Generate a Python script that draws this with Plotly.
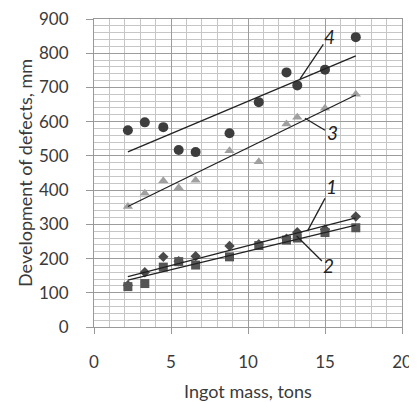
import plotly.graph_objects as go

# Data
mass = [2.2, 3.3, 4.5, 5.5, 6.6, 8.8, 10.7, 12.5, 13.2, 15.0, 17.0]
defects_1 = [122, 160, 205, 192, 207, 237, 242, 258, 277, 285, 323]
defects_2 = [118, 127, 175, 191, 181, 205, 238, 254, 260, 276, 290]
defects_3 = [352, 391, 427, 407, 429, 515, 483, 593, 613, 639, 680]
defects_4 = [575, 598, 584, 517, 511, 566, 657, 744, 706, 752, 847]

trend_x = [2.2, 17.0]
trend_1 = [147, 319]
trend_2 = [137, 298]
trend_3 = [352, 678]
trend_4 = [512, 792]

x_ticks = [0, 5, 10, 15, 20]
y_ticks = [0, 100, 200, 300, 400, 500, 600, 700, 800, 900]

FONT = "Lato"
TXT = "#3a3a3a"

fig = go.Figure()

series = [
    (defects_4, "circle", 10, "#3d3d3d"),
    (defects_3, "triangle-up", 9, "#a0a0a0"),
    (defects_1, "diamond", 8, "#4a4a4a"),
    (defects_2, "square", 9, "#555555"),
]
for ys, sym, size, col in series:
    fig.add_trace(go.Scatter(x=mass, y=ys, mode="markers",
                             marker=dict(symbol=sym, size=size, color=col, line=dict(width=0)),
                             showlegend=False, hoverinfo="skip"))

for ty in (trend_1, trend_2, trend_3, trend_4):
    fig.add_trace(go.Scatter(x=trend_x, y=ty, mode="lines",
                             line=dict(color="#222222", width=1.3),
                             showlegend=False, hoverinfo="skip"))

# leader lines and labels
labels = [
    ("4", 15.3, 850, (13.38, 725), (14.89, 826)),
    ("3", 15.5, 568, (13.7, 610), (15.0, 575)),
    ("1", 15.45, 410, (13.87, 281), (15.0, 376)),
    ("2", 15.25, 181, (13.16, 266), (14.8, 193)),
]
for txt, tx, ty, p0, p1 in labels:
    fig.add_shape(type="line", xref="x", yref="y", x0=p0[0], y0=p0[1], x1=p1[0], y1=p1[1],
                  line=dict(color="#222222", width=1.3))
    fig.add_annotation(x=tx, y=ty, xref="x", yref="y", text="<i>" + txt + "</i>",
                       showarrow=False, font=dict(family=FONT, size=19, color="#222222"))

# page body has an 8px margin, so the figure is sized/offset to compensate
fig.update_layout(
    width=409, height=394,
    margin=dict(l=86, r=15, t=11, b=75),
    plot_bgcolor="white", paper_bgcolor="white",
    font=dict(family=FONT, size=17, color=TXT),
)
fig.update_xaxes(range=[0, 20], tickvals=x_ticks, ticks="outside", ticklen=6,
                 tickcolor="#999999", showline=True, linecolor="#999999", mirror=True,
                 showgrid=True, gridcolor="#9c9c9c", gridwidth=1, zeroline=False,
                 minor=dict(dtick=1, showgrid=True, gridcolor="#c6c6c6", gridwidth=1),
                 title=dict(text="Ingot mass, tons", font=dict(size=18), standoff=13),
                 ticklabelstandoff=14, automargin=False, ticklabeloverflow="allow")
fig.update_yaxes(range=[0, 900], tickvals=y_ticks, ticks="outside", ticklen=7,
                 tickcolor="#999999", showline=True, linecolor="#999999", mirror=True,
                 showgrid=True, gridcolor="#9c9c9c", gridwidth=1, zeroline=False,
                 minor=dict(dtick=20, showgrid=True, gridcolor="#c6c6c6", gridwidth=1),
                 title=dict(text="Development of defects, mm", font=dict(size=18), standoff=1),
                 ticklabelstandoff=14, automargin=False, ticklabeloverflow="allow")

fig.write_html("out.html")
